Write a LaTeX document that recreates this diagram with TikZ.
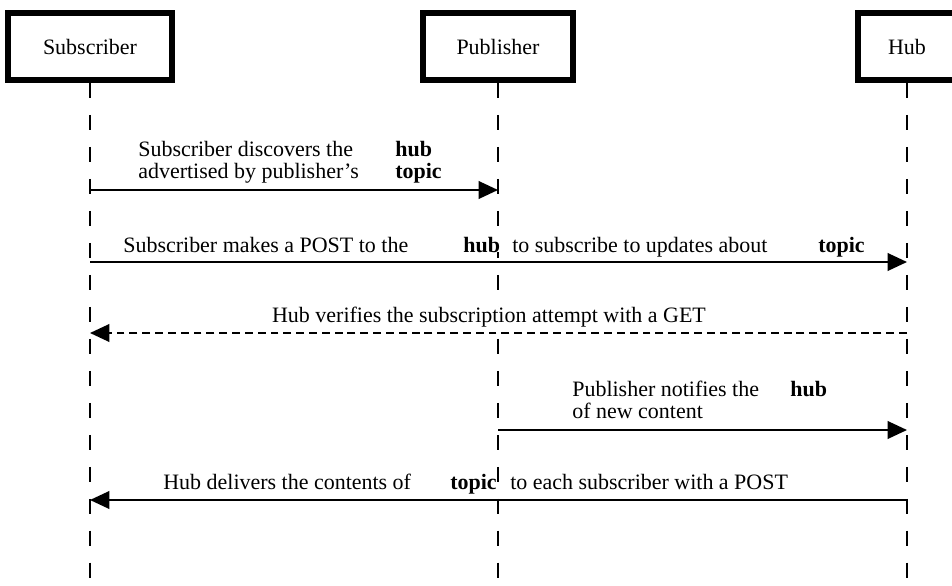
\documentclass[tikz,border=0pt]{standalone}
\usepackage{fontspec}
\setmainfont{Liberation Serif}
\usetikzlibrary{arrows.meta}

\tikzset{
    actor/.style={draw, line width=3.4pt, minimum height=1.34cm, inner sep=0pt,
        font=\fontsize{12.5}{15}\selectfont},
    lifeline/.style={line width=0.85pt, dash pattern=on 8.5pt off 9.7pt},
    msg/.style={line width=1.1pt, -{Triangle[length=11pt,width=10pt]}},
    reply/.style={msg, dash pattern=on 4.5pt off 2.8pt},
    lbl/.style={fill=white, inner sep=0pt, anchor=base west, font=\fontsize{12.5}{15}\selectfont},
}

\begin{document}
\begin{tikzpicture}
        \useasboundingbox (0,0) rectangle (19.04,-11.72);
        \clip (0,0) rectangle (19.04,-11.72);

        % participants
        \node[actor, minimum width=3.28cm] (sub) at (1.8,-0.93) {Subscriber};
        \node[actor, minimum width=3.0cm] (pub) at (9.96,-0.93) {Publisher};
        \node[actor, minimum width=1.96cm] (hub) at (18.14,-0.93) {Hub};

        \foreach \n in {sub, pub, hub}
            \draw[lifeline] (\n.south) -- (\n.south |- 0,-11.8);

        % message end points on the lifelines
        \foreach \n in {sub, pub, hub}
            \foreach \m/\y in {1/-3.8, 2/-5.24, 3/-6.66, 4/-8.6, 5/-10.0}
                \coordinate (\n\m) at (\n.south |- 0,\y);

        % 1: discovery
        \draw[msg] (sub1) -- (pub1);
        \node[lbl] (l1a) at (2.76,-3.12) {Subscriber discovers the};
        \node[lbl] (l1b) at (7.9,-3.12) {\bfseries hub};
        \node[lbl] (l1c) at (2.76,-3.56) {advertised by publisher's};
        \node[lbl] (l1d) at (7.9,-3.56) {\bfseries topic};

        % 2: subscribe
        \draw[msg] (sub2) -- (hub2);
        \node[lbl] (l2a) at (2.46,-5.04) {Subscriber makes a POST to the};
        \node[lbl] (l2b) at (9.26,-5.04) {\bfseries hub};
        \node[lbl] (l2c) at (10.24,-5.04) {to subscribe to updates about};
        \node[lbl] (l2d) at (16.36,-5.04) {\bfseries topic};

        % 3: verification
        \draw[reply] (hub3) -- (sub3);
        \node[lbl, anchor=base] (l3) at (9.78,-6.44) {Hub verifies the subscription attempt with a GET};

        % 4: ping
        \draw[msg] (pub4) -- (hub4);
        \node[lbl] (l4a) at (11.44,-7.92) {Publisher notifies the};
        \node[lbl] (l4b) at (15.8,-7.92) {\bfseries hub};
        \node[lbl] (l4c) at (11.44,-8.36) {of new content};

        % 5: delivery
        \draw[msg] (hub5) -- (sub5);
        \node[lbl] (l5a) at (3.26,-9.78) {Hub delivers the contents of};
        \node[lbl] (l5b) at (9.0,-9.78) {\bfseries topic};
        \node[lbl] (l5c) at (10.2,-9.78) {to each subscriber with a POST};
\end{tikzpicture}
\end{document}
